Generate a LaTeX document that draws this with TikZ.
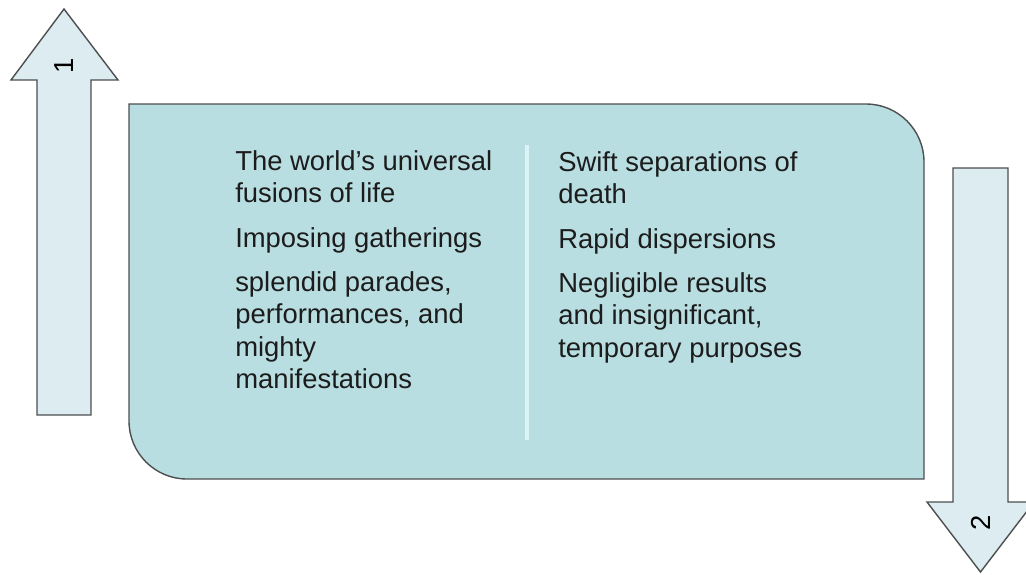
\documentclass[tikz,border=0pt]{standalone}
\usepackage{fontspec}
\setmainfont{Liberation Sans}
\definecolor{boxfill}{HTML}{B9DEE1}
\definecolor{arrowfill}{HTML}{DCECF1}
\definecolor{edgegray}{HTML}{4D4F50}
\definecolor{divider}{HTML}{DDF2F4}
\definecolor{inkgray}{HTML}{1C1C1C}
\tikzset{
  blockarrow/.style={draw=edgegray, line width=1pt, fill=arrowfill, line join=miter},
  panel/.style={draw=edgegray, line width=1pt, fill=boxfill},
  coltext/.style={anchor=north west, inner sep=0pt, align=left, text=inkgray,
    font=\fontsize{19.5}{23.1}\selectfont},
  arrowlabel/.style={inner sep=0pt, rotate=90, text=black,
    font=\fontsize{19.5}{23.1}\selectfont}
}
\begin{document}
\begin{tikzpicture}[x=0.025cm,y=-0.025cm]
			\clip (0,0) rectangle (1026,574);
			% arrow 1, pointing up
			\draw[blockarrow] (37,415) -- (37,80) -- (11,80) -- (64,9) -- (118,80) -- (91,80) -- (91,415) -- cycle;
			\node[arrowlabel] (one) at (64,66) {1};
			% panel with the two columns
			\draw[panel] (129,104) -- (866,104) arc[start angle=-90, end angle=0, radius=58]
			-- (924,479) -- (187,479) arc[start angle=90, end angle=180, radius=58] -- cycle;
			\coordinate (divtop) at (527,145);
			\coordinate (divbot) at (527,440);
			\draw[divider, line width=2.5pt] (divtop) -- (divbot);
			\node[coltext] (life) at (235,150) {The world's universal\\ fusions of life\\[8.5pt]
			Imposing gatherings\\[8.5pt]
			splendid parades,\\ performances, and\\ mighty\\ manifestations};
			\node[coltext] (death) at (558,151) {Swift separations of\\ death\\[8.5pt]
			Rapid dispersions\\[8.5pt]
			Negligible results\\ and insignificant,\\ temporary purposes};
			% arrow 2, pointing down
			\draw[blockarrow] (953,168) -- (1008,168) -- (1008,502) -- (1034,502) -- (980.5,572) -- (927,502) -- (953,502) -- cycle;
			\node[arrowlabel] (two) at (980.5,523) {2};
\end{tikzpicture}
\end{document}
